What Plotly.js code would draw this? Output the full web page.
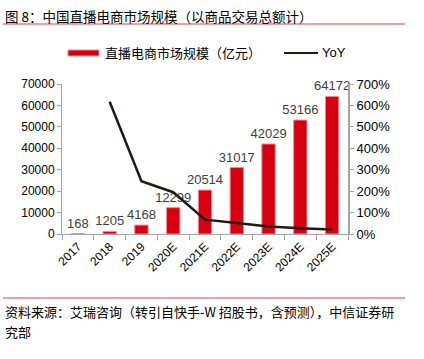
<!DOCTYPE html>
<html><head><meta charset="utf-8">
<script src="https://cdn.plot.ly/plotly-3.0.1.min.js"></script>
<style>html,body{margin:0;padding:0;background:#fff}#c{width:424px;height:359px}</style>
</head><body><div id="c"></div>
<script>
const years = ['2017','2018','2019','2020E','2021E','2022E','2023E','2024E','2025E'];
const gmv = [168,1205,4168,12299,20514,31017,42029,53166,64172];
const yoyYears = ['2018','2019','2020E','2021E','2022E','2023E','2024E','2025E'];
const yoy = [6.17,2.46,1.95,0.67,0.51,0.355,0.265,0.207];
const leftTicks = [0,10000,20000,30000,40000,50000,60000,70000];
const rightTicks = [0,1,2,3,4,5,6,7];
const rightTickText = ['0%','100%','200%','300%','400%','500%','600%','700%'];

const FONT = 'Liberation Sans, Arial, Noto Sans CJK SC, sans-serif';
const CJK = 'Noto Sans CJK SC, Liberation Sans, sans-serif';
const L=62, R=348, T=84, B=234;
const px = x => (x-L)/(R-L);
const py = y => (B-y)/(B-T);

const data = [
  {type:'bar', x:years, y:gmv, name:'直播电商市场规模（亿元）',
   marker:{color:'#d7000f', line:{color:'#f08c96', width:1}},
   width:0.42, text:gmv.map(String), textposition:'outside', cliponaxis:false,
   textfont:{family:FONT, size:13, color:'#404040'}, showlegend:false, hoverinfo:'none'},
  {type:'scatter', mode:'lines', x:yoyYears, y:yoy, yaxis:'y2', name:'YoY',
   line:{color:'#231815', width:2.5}, showlegend:false, hoverinfo:'none', cliponaxis:false}
];

const layout = {
  width:424, height:359,
  margin:{l:L, r:424-R, t:T, b:359-B},
  paper_bgcolor:'#fff', plot_bgcolor:'#fff',
  font:{family:FONT, size:12, color:'#000'},
  bargap:0.58, uniformtext:{mode:false}, 
  xaxis:{type:'category', tickangle:-45, showline:true, linecolor:'#a6a6a6', linewidth:1,
    ticks:'outside', tickson:'boundaries', ticklen:5, tickcolor:'#a6a6a6',
    tickfont:{family:FONT, size:12, color:'#000'}, showgrid:false, zeroline:false},
  yaxis:{range:[0,70000], tickvals:leftTicks, ticktext:leftTicks.map(String), showline:true,
    linecolor:'#a6a6a6', ticks:'outside', ticklen:4, tickcolor:'#a6a6a6', showgrid:false,
    zeroline:false, tickfont:{family:FONT, size:12, color:'#000'}},
  yaxis2:{range:[0,7], overlaying:'y', side:'right', tickvals:rightTicks, ticktext:rightTickText,
    showline:true, linecolor:'#a6a6a6', linewidth:2, ticks:'outside', ticklen:4, tickcolor:'#a6a6a6',
    showgrid:false, zeroline:false, tickfont:{family:FONT, size:13, color:'#000'}},
  shapes:[
    {type:'line', xref:'paper', yref:'paper', x0:px(3), x1:px(405), y0:py(24), y1:py(24), line:{color:'#e8383d', width:1}},
    {type:'line', xref:'paper', yref:'paper', x0:px(3), x1:px(405), y0:py(298), y1:py(298), line:{color:'#e8383d', width:1}},
    {type:'rect', xref:'paper', yref:'paper', x0:px(68), x1:px(99), y0:py(50), y1:py(56), fillcolor:'#d7000f', line:{color:'#f08c96', width:1}},
    {type:'line', xref:'paper', yref:'paper', x0:px(284), x1:px(318), y0:py(53), y1:py(53), line:{color:'#231815', width:2}}
  ],
  annotations:[
    {xref:'paper', yref:'paper', x:px(3), y:py(16), xanchor:'left', yanchor:'middle', showarrow:false,
     text:'图 8：中国直播电商市场规模（以商品交易总额计）', font:{family:CJK, size:13.5, color:'#000'}},
    {xref:'paper', yref:'paper', x:px(103), y:py(53), xanchor:'left', yanchor:'middle', showarrow:false,
     text:'直播电商市场规模（亿元）', font:{family:CJK, size:13, color:'#000'}},
    {xref:'paper', yref:'paper', x:px(320), y:py(53), xanchor:'left', yanchor:'middle', showarrow:false,
     text:'YoY', font:{family:FONT, size:13, color:'#000'}},
    {xref:'paper', yref:'paper', x:px(3), y:py(311), xanchor:'left', yanchor:'middle', showarrow:false,
     text:'资料来源：艾瑞咨询（转引自快手-W 招股书，含预测），中信证券研', font:{family:CJK, size:13, color:'#000'}},
    {xref:'paper', yref:'paper', x:px(3), y:py(331), xanchor:'left', yanchor:'middle', showarrow:false,
     text:'究部', font:{family:CJK, size:13, color:'#000'}}
  ]
};
layout.barmode = 'group';
data[0].constraintext = 'none';
Plotly.newPlot('c', data, layout, {staticPlot:true, displayModeBar:false});
</script></body></html>
